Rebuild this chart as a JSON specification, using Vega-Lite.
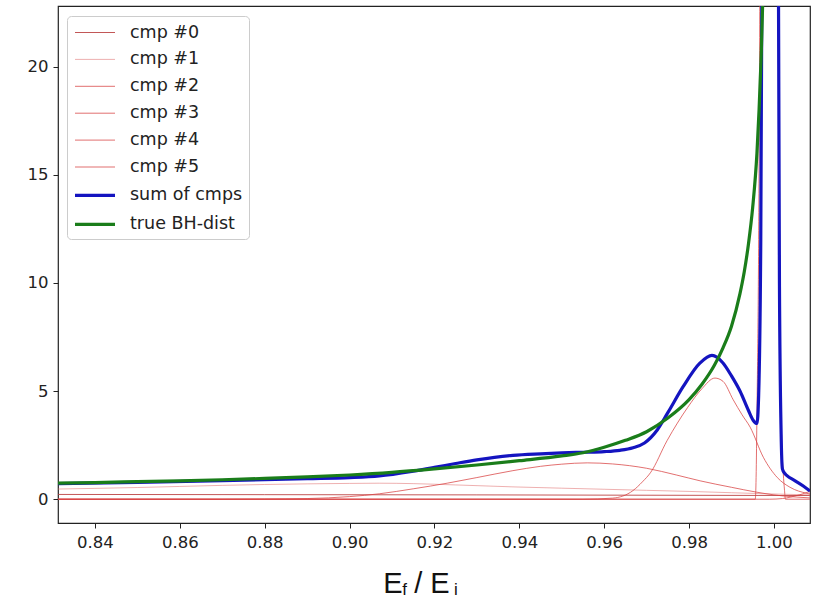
{
  "$schema": "https://vega.github.io/schema/vega-lite/v6.json",
  "width": 752,
  "height": 517,
  "autosize": {"type": "none"},
  "padding": {"left": 58, "top": 6, "right": 6, "bottom": 74},
  "background": "white",
  "config": {
    "view": {"stroke": "#222222", "strokeWidth": 1.2},
    "font": "DejaVu Sans"
  },
  "datasets": {
    "d": [
      {"s": "cmp #0", "x": 0.8313, "y": 0.22}, {"s": "cmp #0", "x": 0.88, "y": 0.21}, {"s": "cmp #0", "x": 0.93, "y": 0.2}, {"s": "cmp #0", "x": 0.98, "y": 0.18}, {"s": "cmp #0", "x": 1.0085, "y": 0.17},
      {"s": "cmp #1", "x": 0.8313, "y": 0.47}, {"s": "cmp #1", "x": 0.84, "y": 0.5}, {"s": "cmp #1", "x": 0.85, "y": 0.54}, {"s": "cmp #1", "x": 0.86, "y": 0.59}, {"s": "cmp #1", "x": 0.87, "y": 0.64}, {"s": "cmp #1", "x": 0.88, "y": 0.68}, {"s": "cmp #1", "x": 0.89, "y": 0.71}, {"s": "cmp #1", "x": 0.9, "y": 0.73}, {"s": "cmp #1", "x": 0.907, "y": 0.74}, {"s": "cmp #1", "x": 0.915, "y": 0.72}, {"s": "cmp #1", "x": 0.925, "y": 0.66}, {"s": "cmp #1", "x": 0.9385, "y": 0.57}, {"s": "cmp #1", "x": 0.95, "y": 0.51}, {"s": "cmp #1", "x": 0.96, "y": 0.46}, {"s": "cmp #1", "x": 0.97, "y": 0.41}, {"s": "cmp #1", "x": 0.98, "y": 0.36}, {"s": "cmp #1", "x": 0.99, "y": 0.3}, {"s": "cmp #1", "x": 1.0, "y": 0.24}, {"s": "cmp #1", "x": 1.0085, "y": 0.2},
      {"s": "cmp #2", "x": 0.8313, "y": 0}, {"s": "cmp #2", "x": 0.87, "y": 0}, {"s": "cmp #2", "x": 0.88, "y": 0.01}, {"s": "cmp #2", "x": 0.89, "y": 0.03}, {"s": "cmp #2", "x": 0.9, "y": 0.12}, {"s": "cmp #2", "x": 0.907, "y": 0.25}, {"s": "cmp #2", "x": 0.915, "y": 0.48}, {"s": "cmp #2", "x": 0.923, "y": 0.74}, {"s": "cmp #2", "x": 0.93, "y": 1.0}, {"s": "cmp #2", "x": 0.9385, "y": 1.32}, {"s": "cmp #2", "x": 0.945, "y": 1.52}, {"s": "cmp #2", "x": 0.95, "y": 1.62}, {"s": "cmp #2", "x": 0.956, "y": 1.68}, {"s": "cmp #2", "x": 0.962, "y": 1.63}, {"s": "cmp #2", "x": 0.97, "y": 1.43}, {"s": "cmp #2", "x": 0.977, "y": 1.12}, {"s": "cmp #2", "x": 0.9826, "y": 0.85}, {"s": "cmp #2", "x": 0.99, "y": 0.55}, {"s": "cmp #2", "x": 0.9958, "y": 0.33}, {"s": "cmp #2", "x": 1.0, "y": 0.2}, {"s": "cmp #2", "x": 1.0085, "y": 0.06},
      {"s": "cmp #3", "x": 0.8313, "y": 0}, {"s": "cmp #3", "x": 0.955, "y": 0}, {"s": "cmp #3", "x": 0.962, "y": 0.05}, {"s": "cmp #3", "x": 0.9668, "y": 0.4}, {"s": "cmp #3", "x": 0.969, "y": 0.8}, {"s": "cmp #3", "x": 0.971, "y": 1.25}, {"s": "cmp #3", "x": 0.9748, "y": 2.7}, {"s": "cmp #3", "x": 0.9797, "y": 4.25}, {"s": "cmp #3", "x": 0.983, "y": 5.1}, {"s": "cmp #3", "x": 0.9861, "y": 5.6}, {"s": "cmp #3", "x": 0.988, "y": 5.45}, {"s": "cmp #3", "x": 0.9904, "y": 4.6}, {"s": "cmp #3", "x": 0.9925, "y": 3.9}, {"s": "cmp #3", "x": 0.9944, "y": 3.33}, {"s": "cmp #3", "x": 0.9975, "y": 1.94}, {"s": "cmp #3", "x": 1.0008, "y": 1.0}, {"s": "cmp #3", "x": 1.0038, "y": 0.55}, {"s": "cmp #3", "x": 1.0078, "y": 0.27}, {"s": "cmp #3", "x": 1.0085, "y": 0.24},
      {"s": "cmp #4", "x": 0.8313, "y": 0}, {"s": "cmp #4", "x": 0.9956, "y": 0}, {"s": "cmp #4", "x": 0.9958, "y": 1}, {"s": "cmp #4", "x": 0.996, "y": 4}, {"s": "cmp #4", "x": 0.9964, "y": 12}, {"s": "cmp #4", "x": 0.9968, "y": 30}, {"s": "cmp #4", "x": 0.9972, "y": 60}, {"s": "cmp #4", "x": 1.0006, "y": 60}, {"s": "cmp #4", "x": 1.001, "y": 30}, {"s": "cmp #4", "x": 1.0014, "y": 10}, {"s": "cmp #4", "x": 1.0018, "y": 3}, {"s": "cmp #4", "x": 1.0022, "y": 1.2}, {"s": "cmp #4", "x": 1.0025, "y": 0.4}, {"s": "cmp #4", "x": 1.0027, "y": 0}, {"s": "cmp #4", "x": 1.0085, "y": 0},
      {"s": "cmp #5", "x": 0.8313, "y": 0}, {"s": "cmp #5", "x": 0.999, "y": 0}, {"s": "cmp #5", "x": 1.002, "y": 0.03}, {"s": "cmp #5", "x": 1.004, "y": 0.1}, {"s": "cmp #5", "x": 1.006, "y": 0.2}, {"s": "cmp #5", "x": 1.0085, "y": 0.36},
      {"s": "sum of cmps", "x": 0.8313, "y": 0.72}, {"s": "sum of cmps", "x": 0.85, "y": 0.78}, {"s": "sum of cmps", "x": 0.87, "y": 0.86}, {"s": "sum of cmps", "x": 0.89, "y": 0.95}, {"s": "sum of cmps", "x": 0.9, "y": 1.0}, {"s": "sum of cmps", "x": 0.907, "y": 1.08}, {"s": "sum of cmps", "x": 0.915, "y": 1.3}, {"s": "sum of cmps", "x": 0.92, "y": 1.47}, {"s": "sum of cmps", "x": 0.925, "y": 1.65}, {"s": "sum of cmps", "x": 0.93, "y": 1.82}, {"s": "sum of cmps", "x": 0.9385, "y": 2.03}, {"s": "sum of cmps", "x": 0.945, "y": 2.1}, {"s": "sum of cmps", "x": 0.95, "y": 2.14}, {"s": "sum of cmps", "x": 0.955, "y": 2.17}, {"s": "sum of cmps", "x": 0.96, "y": 2.2}, {"s": "sum of cmps", "x": 0.9637, "y": 2.26}, {"s": "sum of cmps", "x": 0.9668, "y": 2.38}, {"s": "sum of cmps", "x": 0.9695, "y": 2.6}, {"s": "sum of cmps", "x": 0.9725, "y": 3.2}, {"s": "sum of cmps", "x": 0.975, "y": 4.0}, {"s": "sum of cmps", "x": 0.9786, "y": 5.2}, {"s": "sum of cmps", "x": 0.9826, "y": 6.3}, {"s": "sum of cmps", "x": 0.9854, "y": 6.65}, {"s": "sum of cmps", "x": 0.988, "y": 6.3}, {"s": "sum of cmps", "x": 0.99, "y": 5.7}, {"s": "sum of cmps", "x": 0.992, "y": 5.0}, {"s": "sum of cmps", "x": 0.994, "y": 4.1}, {"s": "sum of cmps", "x": 0.9951, "y": 3.65}, {"s": "sum of cmps", "x": 0.996, "y": 3.5}, {"s": "sum of cmps", "x": 0.9964, "y": 4.8}, {"s": "sum of cmps", "x": 0.9969, "y": 12}, {"s": "sum of cmps", "x": 0.9973, "y": 30}, {"s": "sum of cmps", "x": 0.9977, "y": 60}, {"s": "sum of cmps", "x": 1.0005, "y": 60}, {"s": "sum of cmps", "x": 1.0009, "y": 35}, {"s": "sum of cmps", "x": 1.0013, "y": 10}, {"s": "sum of cmps", "x": 1.0017, "y": 3}, {"s": "sum of cmps", "x": 1.002, "y": 1.4}, {"s": "sum of cmps", "x": 1.0025, "y": 1.2}, {"s": "sum of cmps", "x": 1.003, "y": 1.1}, {"s": "sum of cmps", "x": 1.005, "y": 0.85}, {"s": "sum of cmps", "x": 1.007, "y": 0.6}, {"s": "sum of cmps", "x": 1.0085, "y": 0.38},
      {"s": "true BH-dist", "x": 0.8313, "y": 0.74}, {"s": "true BH-dist", "x": 0.84, "y": 0.77}, {"s": "true BH-dist", "x": 0.85, "y": 0.81}, {"s": "true BH-dist", "x": 0.86, "y": 0.85}, {"s": "true BH-dist", "x": 0.87, "y": 0.9}, {"s": "true BH-dist", "x": 0.88, "y": 0.96}, {"s": "true BH-dist", "x": 0.89, "y": 1.03}, {"s": "true BH-dist", "x": 0.9, "y": 1.12}, {"s": "true BH-dist", "x": 0.91, "y": 1.24}, {"s": "true BH-dist", "x": 0.92, "y": 1.4}, {"s": "true BH-dist", "x": 0.93, "y": 1.58}, {"s": "true BH-dist", "x": 0.94, "y": 1.78}, {"s": "true BH-dist", "x": 0.95, "y": 2.0}, {"s": "true BH-dist", "x": 0.955, "y": 2.15}, {"s": "true BH-dist", "x": 0.96, "y": 2.4}, {"s": "true BH-dist", "x": 0.965, "y": 2.72}, {"s": "true BH-dist", "x": 0.97, "y": 3.12}, {"s": "true BH-dist", "x": 0.975, "y": 3.75}, {"s": "true BH-dist", "x": 0.98, "y": 4.6}, {"s": "true BH-dist", "x": 0.983, "y": 5.3}, {"s": "true BH-dist", "x": 0.986, "y": 6.2}, {"s": "true BH-dist", "x": 0.988, "y": 7.0}, {"s": "true BH-dist", "x": 0.99, "y": 8.0}, {"s": "true BH-dist", "x": 0.992, "y": 9.5}, {"s": "true BH-dist", "x": 0.993, "y": 10.5}, {"s": "true BH-dist", "x": 0.994, "y": 11.8}, {"s": "true BH-dist", "x": 0.995, "y": 13.5}, {"s": "true BH-dist", "x": 0.996, "y": 16}, {"s": "true BH-dist", "x": 0.9965, "y": 18}, {"s": "true BH-dist", "x": 0.997, "y": 20.5}, {"s": "true BH-dist", "x": 0.9975, "y": 24}
    ]
  },
  "data": {"name": "d"},
  "resolve": {"axis": {"x": "independent"}},
  "layer": [
    {
      "mark": {"type": "line", "clip": true, "interpolate": "monotone"},
      "encoding": {
        "x": {
          "field": "x", "type": "quantitative",
          "scale": {"domain": [0.8313, 1.0085], "nice": false, "zero": false},
          "axis": {
            "orient": "bottom",
            "values": [0.84, 0.86, 0.88, 0.9, 0.92, 0.94, 0.96, 0.98, 1.0],
            "format": ".2f", "grid": false, "domain": false,
            "labelFont": "DejaVu Sans", "labelFontSize": 16.5, "labelColor": "#222222",
            "tickColor": "#222222", "tickSize": 5, "tickWidth": 1, "labelPadding": 6,
            "labelFlush": false,
            "title": "E\u2009\u2009/\u00a0E", "titleFont": "Liberation Sans", "titleFontSize": 29,
            "titleFontWeight": "normal", "titleColor": "#111111",
            "titleX": 358, "titleY": 69, "titleAlign": "center", "titleBaseline": "alphabetic", "titleAnchor": null
          }
        },
        "y": {
          "field": "y", "type": "quantitative",
          "scale": {"domain": [-1.1, 22.8], "nice": false, "zero": false},
          "axis": {
            "values": [0, 5, 10, 15, 20], "grid": false, "domain": false, "title": null,
            "labelFont": "DejaVu Sans", "labelFontSize": 16.5, "labelColor": "#222222",
            "tickColor": "#222222", "tickSize": 5, "tickWidth": 1, "labelPadding": 5
          }
        },
        "color": {
          "field": "s", "type": "nominal",
          "scale": {
            "domain": ["cmp #0", "cmp #1", "cmp #2", "cmp #3", "cmp #4", "cmp #5", "sum of cmps", "true BH-dist"],
            "range": ["#b83a3a", "#e07070", "#d84040", "#d84040", "#d84040", "#d84040", "#1414c0", "#1a7d1a"]
          },
          "legend": {
            "orient": "none", "legendX": 9, "legendY": 10, "title": null,
            "symbolType": "M-1,0H3", "symbolSize": 400, "symbolFillColor": "transparent",
            "labelFont": "DejaVu Sans", "labelFontSize": 17.5, "labelColor": "#222222",
            "labelOffset": 33, "rowPadding": 7.9, "padding": 6,
            "strokeColor": "#cccccc", "fillColor": "rgba(255,255,255,0.85)", "cornerRadius": 4
          }
        },
        "strokeWidth": {
          "field": "s", "type": "nominal",
          "scale": {
            "type": "ordinal",
            "domain": ["cmp #0", "cmp #1", "cmp #2", "cmp #3", "cmp #4", "cmp #5", "sum of cmps", "true BH-dist"],
            "range": [1, 1, 1, 1, 1, 1, 3.2, 3.2]
          }
        },
        "opacity": {
          "field": "s", "type": "nominal",
          "scale": {
            "type": "ordinal",
            "domain": ["cmp #0", "cmp #1", "cmp #2", "cmp #3", "cmp #4", "cmp #5", "sum of cmps", "true BH-dist"],
            "range": [0.85, 0.55, 0.75, 0.75, 0.75, 0.75, 1, 1]
          }
        }
      }
    },
    {
      "transform": [{"filter": "datum.s === 'true BH-dist' && datum.x === 0.9"}],
      "mark": {"type": "rule", "strokeOpacity": 0},
      "encoding": {
        "x": {
          "field": "x", "type": "quantitative",
          "axis": {
            "orient": "bottom", "labels": false, "ticks": false, "domain": false, "grid": false,
            "title": "f\u00a0\u00a0\u00a0\u00a0\u00a0\u00a0\u00a0\u00a0\u00a0\u00a0i", "titleFont": "Liberation Sans", "titleFontSize": 17,
            "titleFontWeight": "normal", "titleColor": "#111111",
            "titleX": 371.5, "titleY": 71, "titleAlign": "center", "titleBaseline": "alphabetic", "titleAnchor": null
          }
        }
      }
    }
  ]
}
